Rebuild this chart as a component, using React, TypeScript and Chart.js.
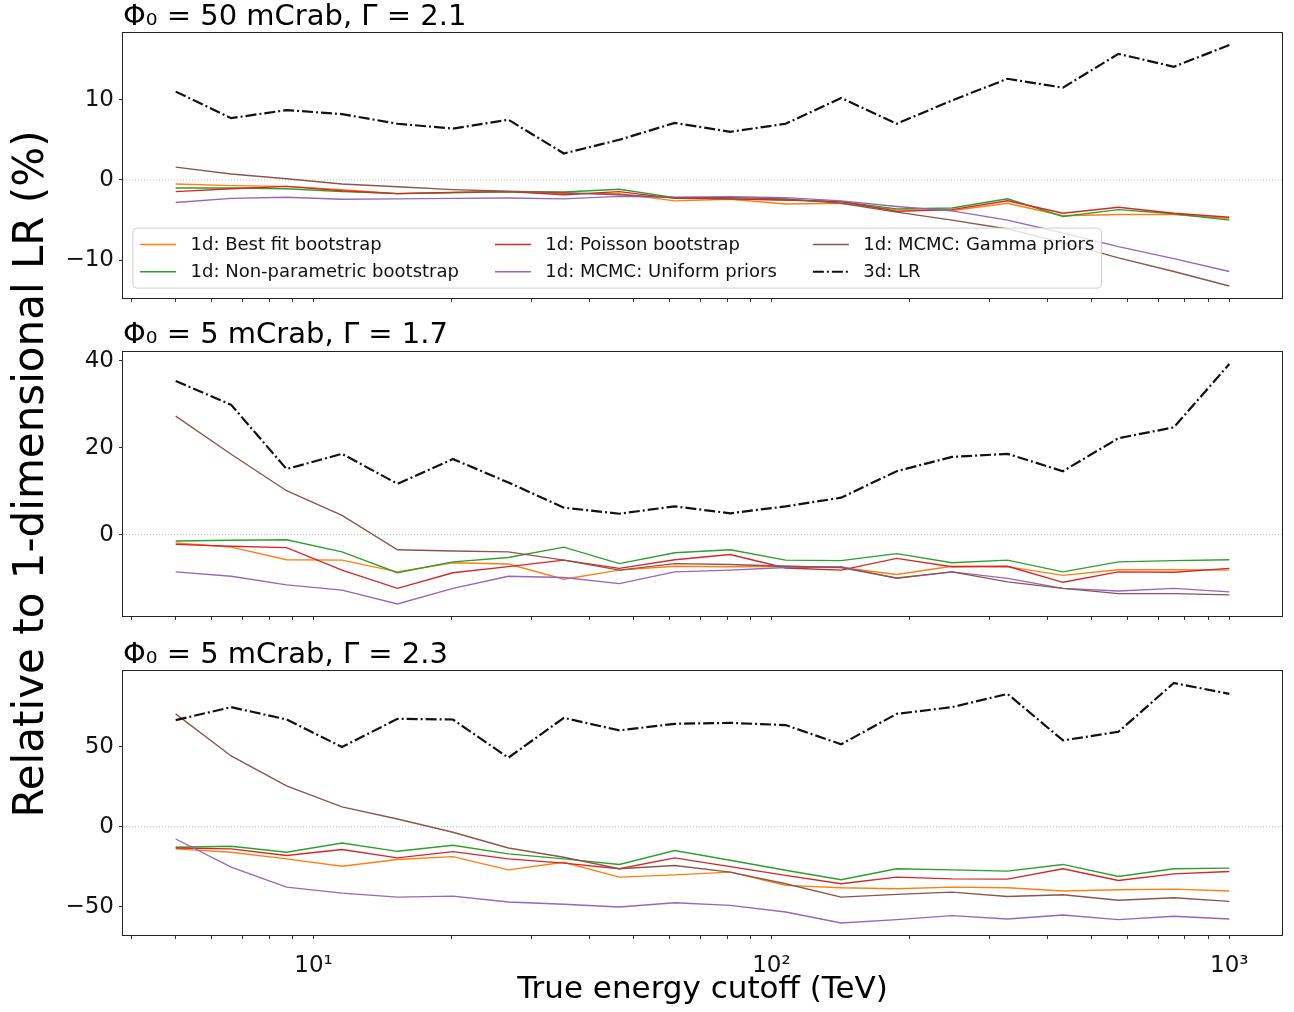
import React, { useEffect, useRef } from 'react';
import { Chart, registerables } from 'chart.js';

Chart.register(...registerables);

const FONT = '"DejaVu Sans", "Liberation Sans", sans-serif';
Chart.defaults.font.family = FONT;

// ---------- data ----------
const energyTeV = [5, 6.608, 8.733, 11.54, 15.25, 20.16, 26.64, 35.21, 46.54, 61.51, 81.29, 107.4, 142.0, 187.7, 248.0, 327.8, 433.2, 572.5, 756.6, 1000];

const seriesNames = [
  '1d: Best fit bootstrap',
  '1d: Non-parametric bootstrap',
  '1d: Poisson bootstrap',
  '1d: MCMC: Uniform priors',
  '1d: MCMC: Gamma priors',
  '3d: LR',
];
const seriesColors = ['#ff7f0e', '#2ca02c', '#d62728', '#9467bd', '#8c564b', '#111111'];

const panelTitles = ['Φ₀ = 50 mCrab, Γ = 2.1', 'Φ₀ = 5 mCrab, Γ = 1.7', 'Φ₀ = 5 mCrab, Γ = 2.3'];

// Panel 1: Φ0 = 50 mCrab, Γ = 2.1
const p1BestFit = [-0.5, -0.7, -0.8, -1.2, -1.7, -1.55, -1.45, -1.7, -1.7, -2.6, -2.4, -3.0, -2.9, -3.7, -3.8, -2.9, -4.45, -4.3, -4.3, -4.8];
const p1NonParam = [-1.0, -1.0, -1.1, -1.45, -1.7, -1.6, -1.45, -1.5, -1.15, -2.2, -2.35, -2.5, -2.7, -3.6, -3.5, -2.35, -4.55, -3.7, -4.2, -5.0];
const p1Poisson = [-1.45, -1.1, -0.8, -1.35, -1.7, -1.55, -1.45, -1.85, -1.45, -2.3, -2.35, -2.5, -2.7, -3.9, -3.7, -2.6, -4.15, -3.4, -4.15, -4.65];
const p1Uniform = [-2.8, -2.3, -2.15, -2.4, -2.35, -2.3, -2.25, -2.35, -2.05, -2.15, -2.1, -2.2, -2.6, -3.3, -3.85, -5.0, -6.6, -8.3, -9.8, -11.4];
const p1Gamma = [1.6, 0.75, 0.15, -0.5, -0.85, -1.2, -1.4, -1.6, -1.85, -2.2, -2.2, -2.35, -2.9, -4.0, -5.0, -6.1, -7.8, -9.7, -11.4, -13.2];
const p1LR3d = [11.0, 7.7, 8.7, 8.2, 7.0, 6.4, 7.5, 3.3, 5.0, 7.1, 6.0, 7.0, 10.2, 7.0, 9.9, 12.6, 11.5, 15.7, 14.1, 16.8];

// Panel 2: Φ0 = 5 mCrab, Γ = 1.7
const p2BestFit = [-1.95, -2.9, -5.8, -5.9, -8.6, -6.5, -6.8, -10.3, -8.2, -7.3, -7.4, -7.3, -7.6, -9.2, -7.3, -7.4, -9.4, -8.1, -8.1, -8.2];
const p2NonParam = [-1.5, -1.3, -1.2, -4.0, -8.8, -6.3, -5.3, -2.9, -6.7, -4.2, -3.5, -5.9, -6.0, -4.4, -6.5, -5.9, -8.6, -6.3, -6.0, -5.8];
const p2Poisson = [-2.25, -2.7, -3.0, -8.2, -12.4, -8.8, -7.4, -5.9, -7.8, -5.8, -4.6, -7.7, -8.2, -5.5, -7.4, -7.3, -11.0, -8.6, -8.7, -7.8];
const p2Uniform = [-8.6, -9.6, -11.6, -12.8, -16.0, -12.4, -9.6, -9.9, -11.3, -8.6, -8.2, -7.6, -7.4, -10.1, -8.6, -10.1, -12.4, -13.0, -12.4, -13.2];
const p2Gamma = [27.3, 18.5, 10.1, 4.4, -3.5, -3.8, -4.0, -5.9, -8.2, -6.7, -6.9, -7.3, -7.6, -10.0, -8.6, -10.9, -12.4, -13.6, -13.6, -13.9];
const p2LR3d = [35.4, 29.9, 15.1, 18.6, 11.7, 17.4, 12.0, 6.2, 4.8, 6.5, 4.9, 6.5, 8.5, 14.6, 17.9, 18.6, 14.6, 22.2, 24.7, 39.3];

// Panel 3: Φ0 = 5 mCrab, Γ = 2.3
const p3BestFit = [-13.9, -16.0, -20.1, -24.7, -20.5, -18.7, -27.0, -22.2, -31.5, -30.1, -28.4, -36.7, -38.2, -38.8, -37.8, -38.2, -40.2, -39.4, -39.0, -40.2];
const p3NonParam = [-12.9, -12.2, -16.0, -10.2, -15.4, -11.6, -17.0, -20.1, -23.6, -14.9, -21.0, -27.2, -33.2, -26.3, -27.0, -27.8, -23.6, -31.1, -26.3, -25.9];
const p3Poisson = [-13.3, -13.9, -18.0, -14.3, -19.5, -15.6, -20.1, -22.8, -26.3, -19.5, -25.0, -30.4, -35.7, -31.5, -32.6, -32.8, -26.3, -33.6, -29.5, -28.0];
const p3Uniform = [-7.7, -25.3, -37.8, -41.5, -44.0, -43.4, -47.1, -48.5, -50.2, -47.5, -49.2, -53.3, -60.2, -58.1, -55.6, -57.7, -55.2, -58.1, -56.0, -57.7];
const p3Gamma = [70.5, 44.2, 25.5, 12.4, 4.8, -3.5, -13.3, -19.1, -26.3, -24.3, -28.4, -35.7, -44.0, -42.3, -40.9, -43.6, -42.5, -46.0, -44.4, -46.7];
const p3LR3d = [66.6, 74.7, 67.0, 49.8, 67.4, 67.0, 43.1, 68.0, 60.2, 64.3, 64.9, 63.5, 51.5, 70.5, 74.7, 83.0, 53.9, 59.3, 89.8, 83.0];

const yTicksP1 = [-10, 0, 10];
const yTicksP2 = [0, 20, 40];
const yTicksP3 = [-50, 0, 50];

const xTickValues = [4, 5, 6, 7, 8, 9, 10, 20, 30, 40, 50, 60, 70, 80, 90, 100, 200, 300, 400, 500, 600, 700, 800, 900, 1000];
const xMajorTicks = [10, 100, 1000];
const xMajorLabels = ['10¹', '10²', '10³'];

const xAxisTitle = 'True energy cutoff (TeV)';
const yAxisTitle = 'Relative to 1-dimensional LR (%)';

// ---------- plugins ----------
const zeroLinePlugin = {
  id: 'zeroLine',
  beforeDatasetsDraw(chart: any) {
    const { ctx, chartArea } = chart;
    const y = chart.scales.y.getPixelForValue(0);
    ctx.save();
    ctx.strokeStyle = 'rgba(160,160,160,0.7)';
    ctx.lineWidth = 1;
    ctx.setLineDash([1, 2]);
    ctx.beginPath();
    ctx.moveTo(chartArea.left, y);
    ctx.lineTo(chartArea.right, y);
    ctx.stroke();
    ctx.restore();
  },
};

const framePlugin = {
  id: 'frame',
  afterDatasetsDraw(chart: any) {
    const { ctx, chartArea } = chart;
    ctx.save();
    ctx.strokeStyle = '#222';
    ctx.lineWidth = 1;
    ctx.strokeRect(chartArea.left - 0.5, chartArea.top - 0.5, chartArea.right - chartArea.left + 1, chartArea.bottom - chartArea.top + 1);
    ctx.restore();
  },
};

const legendPlugin = {
  id: 'mplLegend',
  afterDatasetsDraw(chart: any) {
    const { ctx, chartArea } = chart;
    const fs = 18;
    const handleLen = 2 * fs, handlePad = 0.8 * fs, colSpacing = 2 * fs, borderPad = 0.4 * fs, labelSpacing = 0.5 * fs;
    const rowH = 18.3;
    const nrows = 2;
    const ncols = Math.ceil(seriesNames.length / nrows);
    ctx.save();
    ctx.font = `${fs}px ${FONT}`;
    const colW: number[] = [];
    for (let c = 0; c < ncols; c++) {
      let w = 0;
      for (let r = 0; r < nrows; r++) {
        const k = c * nrows + r;
        if (k < seriesNames.length) w = Math.max(w, ctx.measureText(seriesNames[k]).width);
      }
      colW.push(w);
    }
    const totalW = borderPad * 2 + colW.reduce((a, w) => a + handleLen + handlePad + w, 0) + colSpacing * (ncols - 1);
    const totalH = borderPad * 2 + nrows * rowH + (nrows - 1) * labelSpacing;
    const left = chartArea.left + 0.55 * fs;
    const bottom = chartArea.bottom - 0.55 * fs;
    const top = bottom - totalH;
    ctx.beginPath();
    (ctx as any).roundRect(left, top, totalW, totalH, 4);
    ctx.fillStyle = 'rgba(255,255,255,0.8)';
    ctx.fill();
    ctx.strokeStyle = '#d0d0d0';
    ctx.lineWidth = 1;
    ctx.stroke();
    let x = left + borderPad;
    for (let c = 0; c < ncols; c++) {
      for (let r = 0; r < nrows; r++) {
        const k = c * nrows + r;
        if (k >= seriesNames.length) continue;
        const ds = chart.data.datasets[k];
        const yc = top + borderPad + rowH / 2 + r * (rowH + labelSpacing);
        ctx.save();
        ctx.strokeStyle = ds.borderColor;
        ctx.lineWidth = ds.borderWidth;
        ctx.setLineDash(ds.borderDash || []);
        ctx.beginPath();
        ctx.moveTo(x, yc);
        ctx.lineTo(x + handleLen, yc);
        ctx.stroke();
        ctx.restore();
        ctx.fillStyle = '#111';
        ctx.textBaseline = 'middle';
        ctx.textAlign = 'left';
        ctx.fillText(seriesNames[k], x + handleLen + handlePad, yc + 1);
      }
      x += handleLen + handlePad + colW[c] + colSpacing;
    }
    ctx.restore();
  },
};

// ---------- panel ----------
type PanelProps = {
  idx: number;
  top: number;
  height: number;
  chartTop: number;
  titleMid: number;
  xScaleHeight: number;
  series: number[][];
  yTicks: number[];
  bottomAxis: boolean;
  legend: boolean;
};

const CANVAS_W = 1294;
const AREA_LEFT = 123;
const AREA_RIGHT = 1282;
const TICK_FONT = 23;
const TITLE_FONT = 29;

function Panel(p: PanelProps) {
  const ref = useRef<HTMLCanvasElement>(null);
  useEffect(() => {
    if (!ref.current) return;
    const all = p.series.flat();
    const lo = Math.min(...all);
    const hi = Math.max(...all);
    const ym = (hi - lo) * 0.05;
    const lx0 = Math.log10(energyTeV[0]);
    const lx1 = Math.log10(energyTeV[energyTeV.length - 1]);
    const xm = (lx1 - lx0) * 0.05;
    const lineH = TITLE_FONT * 1.2;
    const padTop = p.titleMid - lineH / 2;
    const padBottom = p.chartTop - padTop - lineH;

    const datasets = seriesNames.map((name, k) => ({
      label: name,
      data: energyTeV.map((x, i) => ({ x, y: p.series[k][i] })),
      borderColor: seriesColors[k],
      backgroundColor: seriesColors[k],
      borderWidth: k === 5 ? 2.2 : 1.4,
      borderDash: k === 5 ? [11, 3, 2, 3] : [],
      pointRadius: 0,
      fill: false,
      tension: 0,
      order: seriesNames.length - k,
    }));

    const plugins: any[] = [zeroLinePlugin, framePlugin];
    if (p.legend) plugins.push(legendPlugin);

    const chart = new Chart(ref.current, {
      type: 'line',
      data: { datasets },
      options: {
        animation: false,
        responsive: false,
        maintainAspectRatio: false,
        events: [],
        layout: { padding: { left: 0, right: CANVAS_W - AREA_RIGHT, top: 0, bottom: 0 } },
        plugins: {
          legend: { display: false },
          tooltip: { enabled: false },
          title: {
            display: true,
            text: panelTitles[p.idx],
            align: 'start',
            fullSize: false,
            color: '#000',
            font: { size: TITLE_FONT, weight: 'normal', family: FONT, lineHeight: 1.2 },
            padding: { top: padTop, bottom: padBottom },
          },
        },
        scales: {
          x: {
            type: 'logarithmic',
            min: Math.pow(10, lx0 - xm),
            max: Math.pow(10, lx1 + xm),
            afterBuildTicks: (s: any) => {
              s.ticks = xTickValues.map((v) => ({ value: v, major: xMajorTicks.includes(v) }));
            },
            afterFit: (s: any) => {
              s.height = p.xScaleHeight;
              s.paddingLeft = 0;
              s.paddingRight = 0;
              s.paddingTop = 0;
              s.paddingBottom = 0;
            },
            ticks: {
              display: p.bottomAxis,
              autoSkip: false,
              maxRotation: 0,
              minRotation: 0,
              padding: 13,
              color: '#111',
              font: { size: TICK_FONT, family: FONT },
              callback: (v: any) => {
                const j = xMajorTicks.indexOf(Number(v));
                return j >= 0 ? xMajorLabels[j] : '';
              },
            },
            grid: { drawOnChartArea: false, drawTicks: true, tickLength: 4, color: '#333' },
            border: { display: false },
            title: {
              display: p.bottomAxis,
              text: xAxisTitle,
              color: '#000',
              font: { size: 31, family: FONT, lineHeight: 1.2 },
              padding: { top: 0, bottom: 3 },
            },
          },
          y: {
            type: 'linear',
            min: lo - ym,
            max: hi + ym,
            afterBuildTicks: (s: any) => {
              s.ticks = p.yTicks.map((v) => ({ value: v }));
            },
            afterFit: (s: any) => {
              s.width = AREA_LEFT;
              s.paddingTop = 0;
              s.paddingBottom = 0;
              s.paddingLeft = 0;
              s.paddingRight = 0;
            },
            ticks: {
              padding: 5,
              color: '#111',
              font: { size: TICK_FONT, family: FONT },
              callback: (v: any) => (Number(v) < 0 ? '\u2212' + Math.abs(Number(v)) : String(v)),
            },
            grid: { drawOnChartArea: false, drawTicks: true, tickLength: 4, color: '#333' },
            border: { display: false },
          },
        },
      } as any,
      plugins,
    });
    return () => chart.destroy();
  }, []);
  return (
    <canvas
      ref={ref}
      width={CANVAS_W}
      height={p.height}
      style={{ position: 'absolute', left: 0, top: p.top, width: CANVAS_W, height: p.height }}
    />
  );
}

export default function App() {
  return (
    <div style={{ position: 'absolute', left: 0, top: 0, width: 1294, height: 1012, background: '#fff', overflow: 'hidden' }}>
      <Panel idx={0} top={0} height={310} chartTop={33} titleMid={17} xScaleHeight={12}
        series={[p1BestFit, p1NonParam, p1Poisson, p1Uniform, p1Gamma, p1LR3d]} yTicks={yTicksP1} bottomAxis={false} legend={true} />
      <Panel idx={1} top={310} height={320} chartTop={42} titleMid={25} xScaleHeight={14}
        series={[p2BestFit, p2NonParam, p2Poisson, p2Uniform, p2Gamma, p2LR3d]} yTicks={yTicksP2} bottomAxis={false} legend={false} />
      <Panel idx={2} top={630} height={382} chartTop={41} titleMid={25} xScaleHeight={77}
        series={[p3BestFit, p3NonParam, p3Poisson, p3Uniform, p3Gamma, p3LR3d]} yTicks={yTicksP3} bottomAxis={true} legend={false} />
      <div
        style={{
          position: 'absolute',
          left: 29 - 400,
          top: 473.5 - 21,
          width: 800,
          height: 42,
          lineHeight: '42px',
          fontSize: 42,
          fontFamily: FONT,
          color: '#000',
          textAlign: 'center',
          whiteSpace: 'nowrap',
          transform: 'rotate(-90deg)',
        }}
      >
        {yAxisTitle}
      </div>
    </div>
  );
}
